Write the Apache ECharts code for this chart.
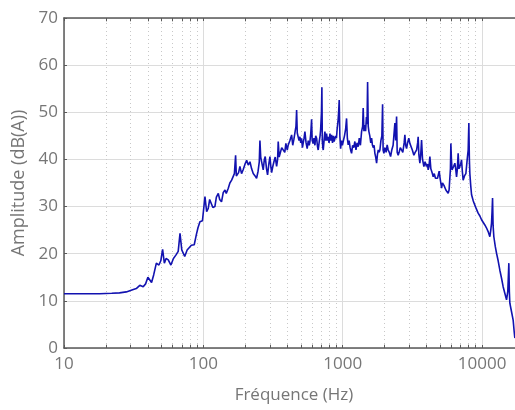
<!DOCTYPE html>
<html>
<head>
<meta charset="utf-8">
<script src="https://cdn.jsdelivr.net/npm/echarts@6/dist/echarts.min.js"></script>
<style>
  html, body { margin: 0; padding: 0; background: #fff; }
  #chart { width: 515px; height: 410px; }
</style>
</head>
<body>
<div id="chart"></div>
<script>
// spectre : fréquence (Hz) / amplitude (dB(A))
var freqHz = [
  10, 14, 18, 22, 25, 28, 30, 33, 35, 37, 38.5, 40, 42.5, 44, 46, 48, 49.5, 51, 52.5, 54,
  56, 58.5, 61, 63.5, 66, 68, 70, 73.5, 76.5, 79, 82, 86, 89, 91.5, 94.5, 98.5,
  102.7, 105.6, 108.4, 111, 114.7, 117, 121, 124, 128, 131, 135, 139, 143, 146, 151, 155,
  159.6, 163.8, 167, 170.4, 172.5, 175, 179, 183, 188, 193, 199, 204.5, 210, 216, 222,
  228, 235, 241, 247, 252, 254.7, 258, 262, 266, 269, 274, 278, 284, 289, 295, 300.5,
  305, 309, 315, 321, 328, 335.6, 341, 344.6, 350, 354.4, 365, 374, 384, 391, 400, 406,
  418, 430, 438, 446.6, 456, 462, 467, 472, 479.5, 486, 493, 500, 507, 514, 520.7, 528,
  535.6, 546, 556, 566, 575, 582, 590, 598, 604, 614, 622, 632, 640, 650, 659, 667, 680,
  688, 694, 704, 709, 714, 720, 725, 735, 745, 756, 766, 777, 787, 798, 810, 821, 832,
  845, 857, 868, 879, 890, 902, 913, 925, 935, 944, 954, 966, 980, 995, 1008, 1030,
  1050, 1066, 1080, 1095, 1112, 1130, 1145, 1158, 1178, 1200, 1223, 1245, 1268, 1292,
  1315, 1340, 1366, 1390, 1403, 1420, 1443, 1460, 1480, 1495, 1509, 1525, 1542, 1565,
  1590, 1612, 1635, 1660, 1680, 1702, 1725, 1751, 1775, 1800, 1825, 1849, 1880, 1910,
  1933, 1950, 1975, 2010, 2050, 2085, 2120, 2160, 2206, 2250, 2300, 2341, 2369, 2400,
  2436, 2460, 2501, 2540, 2590, 2645, 2700, 2760, 2794, 2830, 2873, 2920, 2980, 3034,
  3090, 3160, 3242, 3310, 3390, 3450, 3480, 3520, 3579, 3630, 3681, 3740, 3824, 3900,
  3990, 4060, 4106, 4160, 4223, 4290, 4343, 4400, 4460, 4540, 4630, 4717, 4790, 4843,
  4924, 5000, 5060, 5123, 5200, 5260, 5330, 5410, 5500, 5600, 5712, 5800, 5875, 5930,
  5973, 6030, 6090, 6143, 6250, 6380, 6470, 6562, 6650, 6738, 6830, 6928, 7020, 7125,
  7220, 7316, 7480, 7653, 7819, 7950, 8041, 8110, 8175, 8290, 8408, 8650, 8879, 9100,
  9376, 9650, 9918, 10200, 10473, 10750, 11060, 11375, 11550, 11696, 11800, 11895, 12000,
  12152, 12450, 12706, 13050, 13420, 13800, 14170, 14600, 14990, 15300, 15570, 15700,
  15830, 16250, 16720, 17000, 17190
];
var amplitudeDb = [
  11.5, 11.5, 11.5, 11.6, 11.7, 11.9, 12.2, 12.6, 13.3, 13.0, 13.6, 15.0, 13.9, 15.5, 18.0, 17.6, 18.5, 20.9, 18.0, 19.0,
  18.7, 17.6, 19.0, 19.7, 20.5, 24.3, 20.8, 19.4, 20.8, 20.5, 21.8, 21.9, 24.0, 25.5, 26.8, 27.0,
  32.1, 28.9, 29.6, 31.5, 31.4, 29.8, 30.0, 32.0, 32.8, 31.5, 31.0, 33.0, 33.5, 32.8, 33.9, 35.0,
  35.6, 36.0, 37.0, 40.9, 36.5, 36.3, 37.2, 38.5, 37.0, 37.8, 39.0, 39.8, 38.8, 39.5, 38.0,
  37.0, 36.5, 36.0, 37.5, 39.5, 44.0, 40.5, 39.5, 38.5, 37.8, 40.0, 40.6, 38.0, 36.7, 39.0, 40.6,
  38.5, 37.2, 38.5, 39.5, 40.5, 38.5, 40.0, 43.8, 40.5, 40.9, 42.5, 42.3, 41.5, 43.4, 42.0, 43.0,
  44.0, 45.2, 43.0, 44.3, 46.0, 47.0, 50.5, 45.6, 45.6, 44.0, 44.8, 43.5, 44.5, 42.5, 42.7, 44.5,
  45.9, 43.5, 42.3, 44.0, 43.0, 43.8, 45.5, 48.5, 44.0, 43.4, 44.5, 43.0, 45.0, 44.5, 42.8, 42.0, 44.0,
  45.0, 46.2, 50.0, 55.3, 44.0, 42.5, 42.0, 44.0, 45.9, 44.0, 45.5, 44.0, 44.8, 43.5, 45.5, 44.0, 45.2,
  43.5, 45.0, 43.8, 44.1, 45.0, 44.5, 46.6, 48.0, 50.0, 52.6, 45.0, 42.3, 44.0, 43.0, 43.8, 45.0,
  46.5, 48.7, 44.5, 43.1, 44.0, 42.5, 41.8, 41.3, 43.0, 42.5, 43.8, 42.0, 43.5, 42.7,
  44.5, 43.0, 45.9, 47.0, 50.9, 46.0, 47.3, 46.0, 49.0, 47.5, 56.4, 47.0, 45.9, 45.0,
  43.5, 44.5, 43.0, 42.5, 43.0, 41.3, 40.5, 39.2, 41.0, 42.0, 41.5, 42.0, 44.0, 45.0,
  51.7, 42.0, 41.3, 42.5, 41.5, 43.1, 42.0, 41.5, 40.6, 42.0, 43.0, 43.4, 47.7, 44.0,
  49.1, 41.5, 40.9, 41.5, 42.5, 42.0, 41.5, 43.5, 45.2, 43.0, 42.3, 43.5, 44.5, 43.4,
  43.0, 42.0, 40.9, 41.5, 42.0, 43.5, 44.8, 41.0, 39.2, 41.0, 44.1, 40.0, 38.5, 39.5,
  38.5, 39.0, 37.8, 38.5, 40.6, 38.0, 37.8, 37.0, 36.3, 37.0, 36.0, 35.6, 36.0, 36.0,
  37.5, 36.0, 35.0, 33.9, 35.0, 34.6, 34.5, 34.2, 33.5, 33.2, 32.8, 33.5, 33.9, 38.0,
  43.4, 40.0, 37.8, 37.8, 38.5, 39.2, 38.0, 36.3, 38.0, 41.3, 38.0, 37.8, 39.0, 39.9,
  37.5, 35.6, 36.5, 37.0, 39.9, 42.0, 47.7, 40.0, 37.0, 34.5, 32.5, 31.2, 30.3, 29.5,
  28.6, 28.0, 27.2, 26.8, 26.1, 25.5, 24.7, 23.6, 25.0, 26.5, 29.0, 31.8, 26.0,
  23.6, 21.5, 20.1, 18.5, 16.5, 14.8, 13.0, 11.5, 10.2, 12.0, 18.0, 12.0,
  9.5, 7.8, 5.9, 3.5, 2.1
];

// graduations
var xMin = 10;
var xMax = 20000;
var xMajorTicks = [10, 100, 1000, 10000];
var xMinorTicks = [20, 30, 40, 50, 60, 70, 80, 90,
  200, 300, 400, 500, 600, 700, 800, 900,
  2000, 3000, 4000, 5000, 6000, 7000, 8000, 9000];
var yMin = 0;
var yMax = 70;
var yStep = 10;

var fontFam = '"Open Sans", "Noto Sans", sans-serif';
var textGrey = '#767676';
var axisGrey = '#5a5a5a';

var curve = freqHz.map(function (f, i) { return [f, amplitudeDb[i]]; });

// lignes pointillées de la grille secondaire
var minorGrid = xMinorTicks.map(function (f) { return { xAxis: f }; });
// petites graduations en bas et en haut
var minorTickMarks = [];
xMinorTicks.forEach(function (f) {
  minorTickMarks.push([{ coord: [f, yMin] }, { coord: [f, yMin + 0.7] }]);
  minorTickMarks.push([{ coord: [f, yMax] }, { coord: [f, yMax - 0.7] }]);
});

var myChart = echarts.init(document.getElementById('chart'), null, { renderer: 'canvas' });

var option = {
  animation: false,
  backgroundColor: '#ffffff',
  grid: {
    left: 64,
    top: 18,
    right: -9,
    bottom: 62,
    outerBoundsMode: 'none'
  },
  xAxis: [{
    type: 'log',
    logBase: 10,
    min: xMin,
    max: xMax,
    position: 'bottom',
    name: 'Fréquence (Hz)',
    nameLocation: 'middle',
    nameGap: 39,
    nameTextStyle: { color: textGrey, fontFamily: fontFam, fontSize: 17 },
    axisLine: { show: true, lineStyle: { color: axisGrey, width: 1.5 } },
    axisTick: { show: true, inside: true, length: 3, lineStyle: { color: axisGrey } },
    axisLabel: {
      color: textGrey, fontFamily: fontFam, fontSize: 17, margin: 8,
      formatter: function (v) {
        return xMajorTicks.indexOf(Math.round(v)) >= 0 ? String(Math.round(v)) : '';
      }
    },
    splitLine: { show: true, lineStyle: { color: '#dcdcdc', width: 1 } }
  }, {
    type: 'log',
    logBase: 10,
    min: xMin,
    max: xMax,
    position: 'top',
    axisLine: { show: true, lineStyle: { color: axisGrey, width: 1.5 } },
    axisTick: { show: true, inside: true, length: 3, lineStyle: { color: axisGrey } },
    axisLabel: { show: false },
    splitLine: { show: false }
  }],
  yAxis: {
    type: 'value',
    min: yMin,
    max: yMax,
    interval: yStep,
    name: 'Amplitude (dB(A))',
    nameLocation: 'middle',
    nameGap: 31,
    nameTextStyle: { color: textGrey, fontFamily: fontFam, fontSize: 18 },
    axisLine: { show: true, lineStyle: { color: axisGrey, width: 1.5 } },
    axisTick: { show: true, inside: true, length: 3, lineStyle: { color: axisGrey } },
    axisLabel: { color: textGrey, fontFamily: fontFam, fontSize: 17, margin: 6 },
    splitLine: { show: true, lineStyle: { color: '#dcdcdc', width: 1 } }
  },
  series: [{
    type: 'line',
    data: curve,
    showSymbol: false,
    symbol: 'none',
    lineStyle: { color: '#1212b0', width: 1.6 },
    z: 3,
    markLine: {
      silent: true,
      symbol: 'none',
      z: 1,
      label: { show: false },
      lineStyle: { color: '#c8c8c8', type: [1, 3], width: 1 },
      data: minorGrid
    }
  }, {
    type: 'line',
    data: [],
    showSymbol: false,
    markLine: {
      silent: true,
      symbol: 'none',
      z: 4,
      label: { show: false },
      lineStyle: { color: axisGrey, type: 'solid', width: 1 },
      data: minorTickMarks
    }
  }]
};

myChart.setOption(option, true);
</script>
</body>
</html>
